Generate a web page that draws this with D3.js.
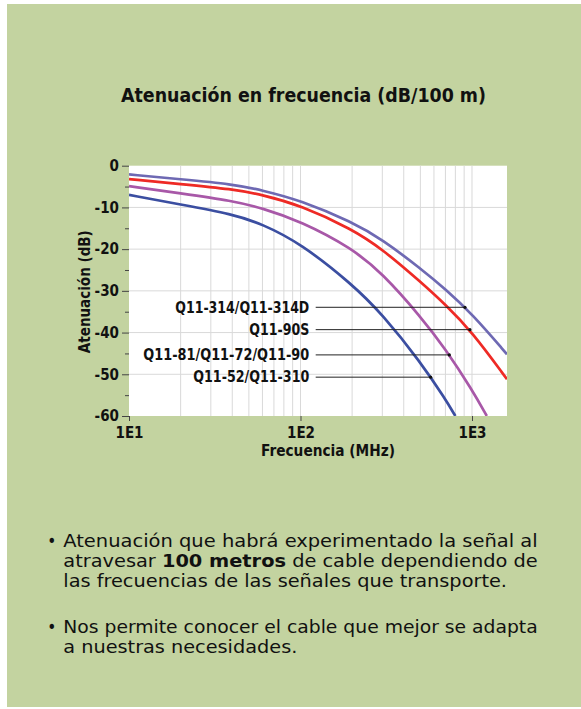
<!DOCTYPE html>
<html>
<head>
<meta charset="utf-8">
<script src="https://cdn.jsdelivr.net/npm/d3@7"></script>
<style>
  body { margin: 0; background: #fff; }
  svg text { font-family: "DejaVu Sans Condensed", "Noto Sans", sans-serif; fill: #111; }
</style>
</head>
<body>
<div id="chart"></div>
<script>
var width = 581;
var height = 709;

// series: frecuencia en MHz, atenuación en dB/100 m
var seriesNames = ["Q11-314/Q11-314D", "Q11-90S", "Q11-81/Q11-72/Q11-90", "Q11-52/Q11-310"];
var seriesColors = ["#6e69b3", "#ee2a25", "#a858a8", "#3b4ea1"];

var freq314 = [10, 20, 40, 60, 100, 200, 300, 500, 700, 1000, 1600];
var att314 = [-2.1, -3.25, -4.4, -5.9, -8.3, -13.5, -17.7, -24.6, -29.6, -35.5, -45.2];

var freq90S = [10, 20, 40, 60, 100, 200, 300, 500, 700, 1000, 1600];
var att90S = [-3.2, -4.4, -5.6, -7.0, -9.5, -15.2, -20.0, -27.8, -33.3, -39.8, -51.2];

var freq81 = [10, 20, 40, 60, 100, 200, 300, 500, 700, 1000, 1220];
var att81 = [-4.9, -6.65, -8.4, -10.2, -13.3, -19.8, -25.8, -36.1, -43.9, -53.7, -60];

var freq52 = [10, 20, 40, 60, 100, 200, 300, 500, 700, 800];
var att52 = [-7.0, -9.3, -11.6, -14.0, -18.6, -28.4, -35.6, -47.0, -56.0, -60];

// frecuencia donde la línea de cada etiqueta toca su curva
var labelFreq = [910, 973, 738, 574];

var yMajor = [0, -10, -20, -30, -40, -50, -60];
var yMinor = [-5, -15, -25, -35, -45, -55];
var xMajor = [10, 100, 1000];
var xGrid = [20, 30, 40, 50, 60, 70, 80, 90, 100, 200, 300, 400, 500, 600, 700, 800, 900, 1000];
var yGrid = [-10, -20, -30, -40, -50];

var freqs = [freq314, freq90S, freq81, freq52];
var atts = [att314, att90S, att81, att52];

var plot = { left: 129, right: 507, top: 165.7, bottom: 416 };

var svg = d3.select("#chart")
  .append("svg")
  .attr("width", width)
  .attr("height", height);

// panel verde
svg.append("rect")
  .attr("x", 7).attr("y", 4)
  .attr("width", width - 7).attr("height", height - 6)
  .attr("fill", "#c3d3a0");

var x = d3.scaleLog()
  .domain([10, 1600])
  .range([plot.left, plot.right]);

var y = d3.scaleLinear()
  .domain([-60, 0])
  .range([plot.bottom, plot.top]);

svg.append("rect")
  .attr("x", plot.left).attr("y", plot.top)
  .attr("width", plot.right - plot.left).attr("height", plot.bottom - plot.top)
  .attr("fill", "#fff");

//rejilla
svg.selectAll(".vgrid")
  .data(xGrid)
  .enter()
  .append("line")
  .attr("class", "vgrid")
  .attr("x1", function (d) { return x(d); })
  .attr("x2", function (d) { return x(d); })
  .attr("y1", plot.top)
  .attr("y2", plot.bottom)
  .attr("stroke", "#d9d9d9")
  .attr("stroke-width", 1);

svg.selectAll(".hgrid")
  .data(yGrid)
  .enter()
  .append("line")
  .attr("class", "hgrid")
  .attr("x1", plot.left)
  .attr("x2", plot.right)
  .attr("y1", function (d) { return y(d); })
  .attr("y2", function (d) { return y(d); })
  .attr("stroke", "#d9d9d9")
  .attr("stroke-width", 1);

// ejes
function styleAxis(g) {
  g.select(".domain").remove();
  g.selectAll(".tick line").attr("stroke", "#444");
  g.selectAll("text")
    .attr("font-family", null)
    .style("font-size", "15px")
    .style("font-weight", "600")
    .attr("fill", "#111");
}

svg.append("g")
  .attr("transform", "translate(" + plot.left + ",0)")
  .call(d3.axisLeft(y).tickValues(yMajor).tickSize(7).tickPadding(3)
    .tickFormat(function (d) { return String(d); }))
  .call(styleAxis);

svg.append("g")
  .attr("transform", "translate(" + plot.left + ",0)")
  .call(d3.axisLeft(y).tickValues(yMinor).tickSize(4).tickFormat(""))
  .call(styleAxis);

svg.append("g")
  .attr("transform", "translate(0," + plot.bottom + ")")
  .call(d3.axisBottom(x).tickValues(xMajor).tickSize(5).tickPadding(6)
    .tickFormat(function (d) { return "1E" + Math.round(Math.log10(d)); }))
  .call(styleAxis);

// curvas
svg.append("clipPath")
  .attr("id", "plotClip")
  .append("rect")
  .attr("x", plot.left).attr("y", plot.top)
  .attr("width", plot.right - plot.left).attr("height", plot.bottom - plot.top);

var line = d3.line()
  .x(function (d) { return x(d[0]); })
  .y(function (d) { return y(d[1]); })
  .curve(d3.curveBasis);

svg.append("g")
  .attr("clip-path", "url(#plotClip)")
  .selectAll("path")
  .data(seriesNames)
  .enter()
  .append("path")
  .attr("d", function (d, i) { return line(d3.zip(freqs[i], atts[i])); })
  .attr("fill", "none")
  .attr("stroke", function (d, i) { return seriesColors[i]; })
  .attr("stroke-width", 2.7);

// interpolación en escala log para situar el punto de la etiqueta sobre la curva
function attAt(i, f) {
  var fs = freqs[i], as = atts[i];
  for (var k = 1; k < fs.length; k++) {
    if (f <= fs[k]) {
      var t = (Math.log(f) - Math.log(fs[k - 1])) / (Math.log(fs[k]) - Math.log(fs[k - 1]));
      return as[k - 1] + t * (as[k] - as[k - 1]);
    }
  }
  return as[as.length - 1];
}

var labelWidths = [134, 60, 166, 116];
var labels = svg.append("g");

seriesNames.forEach(function (name, i) {
  var ly = y(attAt(i, labelFreq[i]));
  var lx = x(labelFreq[i]);
  labels.append("line")
    .attr("x1", 315.7).attr("x2", lx)
    .attr("y1", ly).attr("y2", ly)
    .attr("stroke", "#222")
    .attr("stroke-width", 1);
  labels.append("circle")
    .attr("cx", lx).attr("cy", ly).attr("r", 1.6)
    .attr("fill", "#111");
  labels.append("text")
    .attr("x", 309.3)
    .attr("y", ly + 5.3)
    .attr("text-anchor", "end")
    .attr("textLength", labelWidths[i])
    .attr("lengthAdjust", "spacingAndGlyphs")
    .style("font-size", "15px")
    .style("font-weight", "600")
    .text(name);
});

// títulos
svg.append("text")
  .attr("x", 303.5)
  .attr("y", 102)
  .attr("text-anchor", "middle")
  .attr("textLength", 365)
  .attr("lengthAdjust", "spacingAndGlyphs")
  .style("font-size", "20px")
  .style("font-weight", "600")
  .text("Atenuación en frecuencia (dB/100 m)");

svg.append("text")
  .attr("x", 328)
  .attr("y", 456)
  .attr("text-anchor", "middle")
  .attr("textLength", 134)
  .attr("lengthAdjust", "spacingAndGlyphs")
  .style("font-size", "15px")
  .style("font-weight", "600")
  .text("Frecuencia (MHz)");

svg.append("text")
  .attr("transform", "translate(89.5,291.7) rotate(-90)")
  .attr("text-anchor", "middle")
  .attr("textLength", 123)
  .attr("lengthAdjust", "spacingAndGlyphs")
  .style("font-size", "15px")
  .style("font-weight", "600")
  .text("Atenuación (dB)");

// texto inferior
var bulletLines = [
  { y: 547, w: 474.4, bullet: true, parts: [["Atenuación que habrá experimentado la señal al", false]] },
  { y: 567, w: 474.4, bullet: false, parts: [["atravesar ", false], ["100 metros", true], [" de cable dependiendo de", false]] },
  { y: 587, w: 443.7, bullet: false, parts: [["las frecuencias de las señales que transporte.", false]] },
  { y: 632.5, w: 474.4, bullet: true, parts: [["Nos permite conocer el cable que mejor se adapta", false]] },
  { y: 652.5, w: 234, bullet: false, parts: [["a nuestras necesidades.", false]] }
];

bulletLines.forEach(function (l) {
  if (l.bullet) {
    svg.append("text")
      .attr("x", 51.7)
      .attr("y", l.y)
      .attr("text-anchor", "middle")
      .style("font-size", "17px")
      .text("•");
  }
  var t = svg.append("text")
    .attr("x", 63.3)
    .attr("y", l.y)
    .attr("textLength", l.w)
    .attr("lengthAdjust", "spacingAndGlyphs")
    .style("font-size", "17px");
  l.parts.forEach(function (p) {
    t.append("tspan")
      .style("font-weight", p[1] ? "700" : "400")
      .text(p[0]);
  });
});
</script>
</body>
</html>
